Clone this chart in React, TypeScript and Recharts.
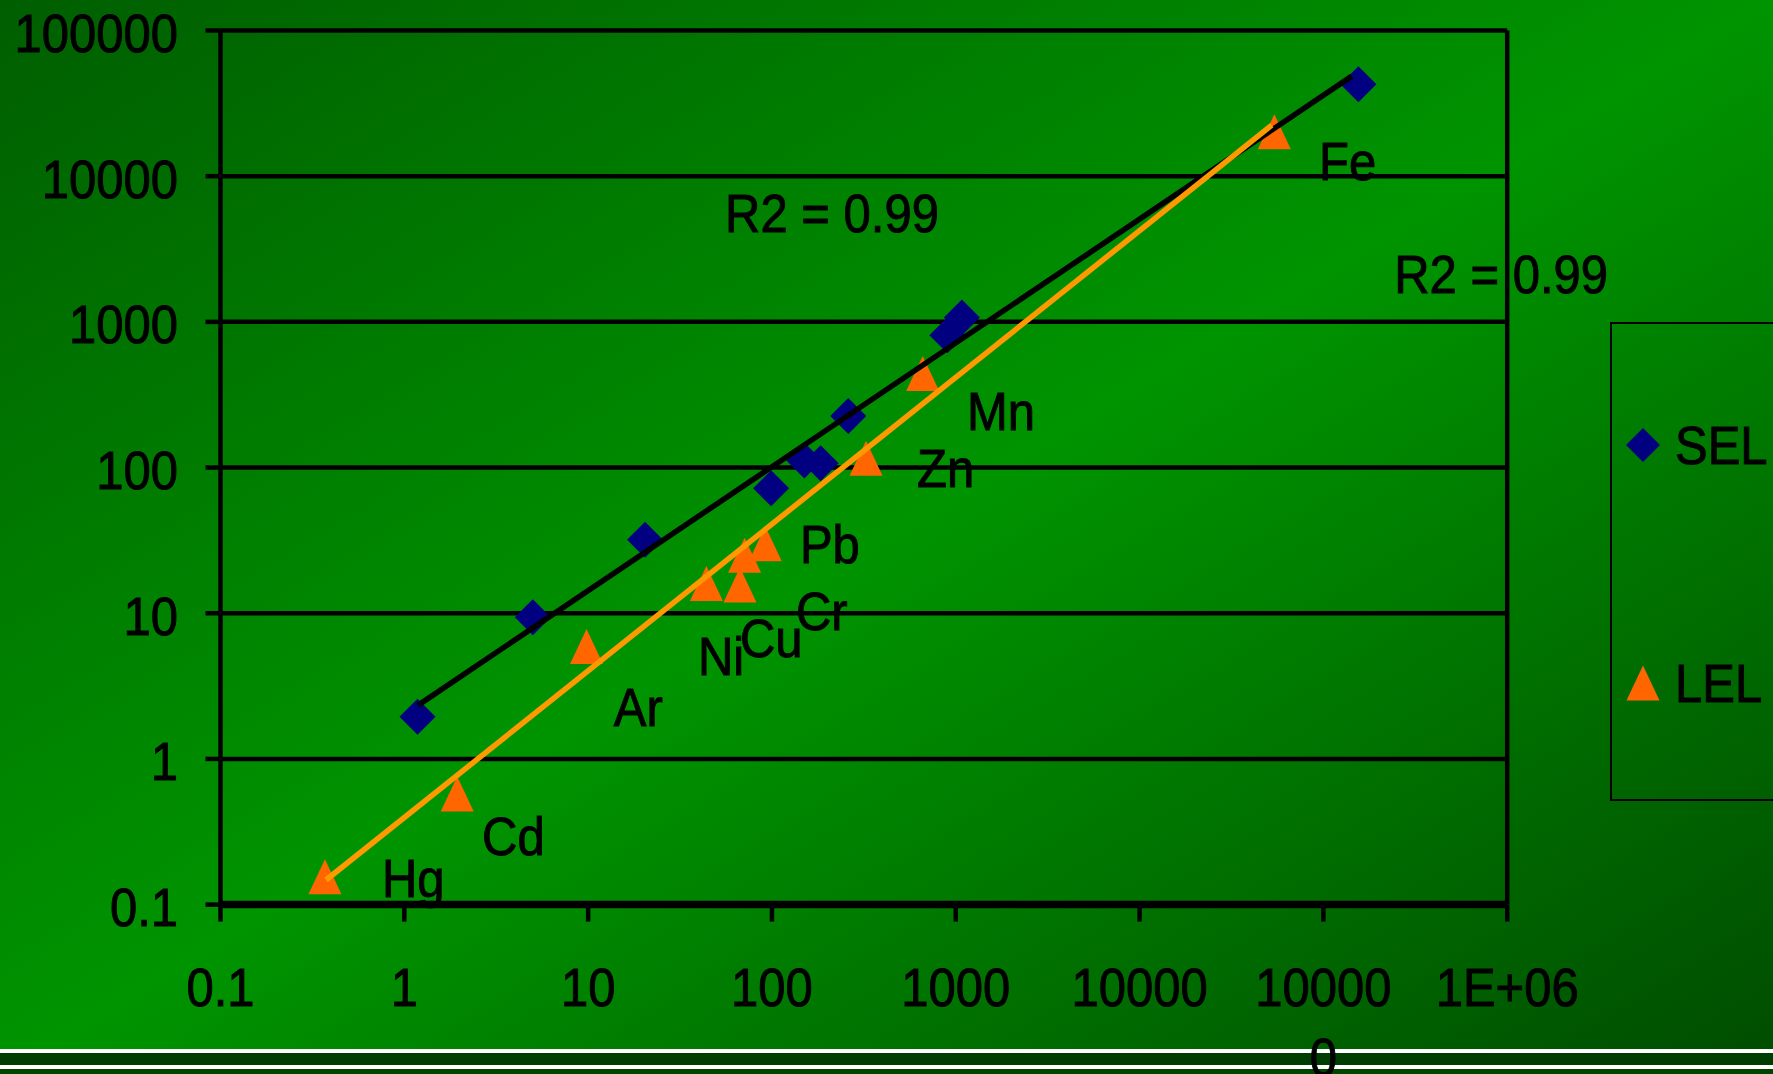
import React from 'react';
import { ScatterChart, Scatter, XAxis, YAxis, CartesianGrid, ReferenceLine } from 'recharts';

const FONT = '"Liberation Sans", Arial, sans-serif';
const TEXT_STROKE = 0.9;

const xTicks = [0.1, 1, 10, 100, 1000, 10000, 100000, 1000000];
const xTickLabels = ['0.1', '1', '10', '100', '1000', '10000', '10000\n0', '1E+06'];
const yTicks = [0.1, 1, 10, 100, 1000, 10000, 100000];
const yTickLabels = ['0.1', '1', '10', '100', '1000', '10000', '100000'];

// SEL series (diamonds)
const selData = [
  { x: 1.18, y: 1.95 },
  { x: 5.0, y: 9.4 },
  { x: 20.4, y: 32 },
  { x: 99, y: 72 },
  { x: 150, y: 112 },
  { x: 184, y: 107 },
  { x: 260, y: 226 },
  { x: 900, y: 810 },
  { x: 1080, y: 1070 },
  { x: 155000, y: 42700 },
];

// LEL series (triangles)
const elements = ['Hg', 'Cd', 'Ar', 'Ni', 'Cu', 'Cr', 'Pb', 'Zn', 'Mn', 'Fe'];
const lelX = [0.37, 1.94, 9.8, 44, 67, 71, 92, 325, 661, 54100];
const lelY = [0.155, 0.574, 5.9, 16, 15.6, 25, 30, 116, 443, 20200];
const lelData = elements.map((name, i) => ({ name, x: lelX[i], y: lelY[i] }));

// Power trendlines (straight on log-log), endpoints
const selTrend = [
  { x: 1.19, y: 2.34 },
  { x: 142700, y: 48600 },
];
const lelTrend = [
  { x: 0.375, y: 0.1475 },
  { x: 52400, y: 22400 },
];

// Data-label anchors (left / baseline) in data coordinates
const labelX = [0.756, 2.65, 13.8, 39.6, 67, 135, 142, 615, 1150, 94800];
const labelY = [0.113, 0.219, 1.68, 3.77, 5.0, 7.67, 22.1, 73.4, 181, 9400];
const labelData = elements.map((name, i) => ({ name, x: labelX[i], y: labelY[i] }));

const r2Labels = [
  { name: 'R2 = 0.99', x: 55.6, y: 4150 },
  { name: 'R2 = 0.99', x: 242700, y: 1578 },
];

const series = [
  { name: 'SEL', color: '#000080', shape: 'diamond' },
  { name: 'LEL', color: '#FF6600', shape: 'triangle' },
];

const diamondPts = (cx: number, cy: number, r = 18) =>
  `${cx},${cy - r} ${cx + r},${cy} ${cx},${cy + r} ${cx - r},${cy}`;
const trianglePts = (cx: number, cy: number) =>
  `${cx},${cy - 17.5} ${cx + 16.5},${cy + 17.5} ${cx - 16.5},${cy + 17.5}`;

const DiamondShape = (p: any) => (
  <polygon points={diamondPts(p.cx, p.cy)} fill={series[0].color} />
);
const TriangleShape = (p: any) => (
  <polygon points={trianglePts(p.cx, p.cy)} fill={series[1].color} />
);
const EmptyShape = () => <g />;

const textProps = {
  fontSize: 49,
  fontFamily: FONT,
  fill: '#000',
  stroke: '#000',
  strokeWidth: TEXT_STROKE,
};

const TextShape = (p: any) => (
  <g transform={`translate(${p.cx},${p.cy}) scale(1,1.1)`}>
    <text x={0} y={0} {...textProps}>
      {p.payload.name}
    </text>
  </g>
);

const findIdx = (arr: number[], v: number) =>
  arr.findIndex((t) => Math.abs(Math.log10(t) - Math.log10(v)) < 1e-6);

const XTick = (props: any) => {
  const { x, y, payload } = props;
  const i = findIdx(xTicks, payload.value);
  const lines = (i >= 0 ? xTickLabels[i] : String(payload.value)).split('\n');
  return (
    <g transform={`translate(${x},${y + 82}) scale(1,1.1)`}>
      <text x={0} y={0} textAnchor="middle" {...textProps}>
        {lines.map((l, k) => (
          <tspan key={k} x={0} dy={k === 0 ? 0 : 64}>
            {l}
          </tspan>
        ))}
      </text>
    </g>
  );
};

const YTick = (props: any) => {
  const { x, y, payload } = props;
  const i = findIdx(yTicks, payload.value);
  const label = i >= 0 ? yTickLabels[i] : String(payload.value);
  return (
    <g transform={`translate(${x - 25.5},${y + 21.5}) scale(1,1.1)`}>
      <text x={0} y={0} textAnchor="end" {...textProps}>
        {label}
      </text>
    </g>
  );
};

const Legend = () => (
  <svg
    width={1773}
    height={1074}
    style={{ position: 'absolute', left: 0, top: 0, pointerEvents: 'none' }}
  >
    <rect x={1611} y={323} width={200} height={477} fill="none" stroke="#000" strokeWidth={2} />
    {series.map((s, i) => {
      const cy = i === 0 ? 445 : 683;
      return (
        <g key={s.name}>
          {s.shape === 'diamond' ? (
            <polygon points={diamondPts(1643, cy, 17)} fill={s.color} />
          ) : (
            <polygon points={trianglePts(1643, cy)} fill={s.color} />
          )}
          <g transform={`translate(1675,${cy + 19}) scale(1,1.1)`}>
            <text x={0} y={0} {...textProps}>
              {s.name}
            </text>
          </g>
        </g>
      );
    })}
  </svg>
);

export default function App() {
  return (
    <div
      style={{
        position: 'relative',
        width: 1773,
        height: 1074,
        overflow: 'hidden',
        background: 'linear-gradient(to bottom right, #005e00 0%, #009400 50%, #004c00 100%)',
      }}
    >
      <style>{'html,body{margin:0;padding:0;overflow:hidden}'}</style>
      <div style={{ position: 'absolute', left: 0, top: 1049, width: 1773, height: 4, background: '#ffffff' }} />
      <div style={{ position: 'absolute', left: 0, top: 1053, width: 1773, height: 12, background: '#003d00' }} />
      <div style={{ position: 'absolute', left: 0, top: 1065, width: 1773, height: 4, background: '#ffffff' }} />
      <div style={{ position: 'absolute', left: 0, top: 1069, width: 1773, height: 5, background: '#004600' }} />
      <div style={{ position: 'absolute', left: 0, top: 0 }}>
        <ScatterChart
          width={1773}
          height={1074}
          margin={{ top: 30.5, right: 265.8, bottom: 0, left: 0 }}
        >
          <CartesianGrid vertical={false} stroke="#000" strokeWidth={4.5} />
          <XAxis
            type="number"
            dataKey="x"
            scale="log"
            domain={[0.1, 1000000]}
            ticks={xTicks}
            interval={0}
            height={169.4}
            tickSize={17}
            tickLine={{ stroke: '#000', strokeWidth: 4.5 }}
            axisLine={{ stroke: '#000', strokeWidth: 7.5 }}
            tick={<XTick />}
          />
          <YAxis
            type="number"
            dataKey="y"
            scale="log"
            domain={[0.1, 100000]}
            ticks={yTicks}
            interval={0}
            width={220.5}
            tickSize={15}
            tickLine={{ stroke: '#000', strokeWidth: 4.5 }}
            axisLine={{ stroke: '#000', strokeWidth: 4.5 }}
            tick={<YTick />}
          />
          <ReferenceLine x={1000000} stroke="#000" strokeWidth={4.5} />
          <Scatter name="SEL" data={selData} shape={DiamondShape} isAnimationActive={false} />
          <Scatter name="LEL" data={lelData} shape={TriangleShape} isAnimationActive={false} />
          <Scatter
            name="SEL trend"
            data={selTrend}
            shape={EmptyShape}
            line={{ stroke: '#000000', strokeWidth: 5.5 }}
            isAnimationActive={false}
            legendType="none"
          />
          <Scatter
            name="LEL trend"
            data={lelTrend}
            shape={EmptyShape}
            line={{ stroke: '#FF9900', strokeWidth: 5.5 }}
            isAnimationActive={false}
            legendType="none"
          />
          <Scatter name="labels" data={labelData} shape={TextShape} isAnimationActive={false} legendType="none" />
          <Scatter name="r2" data={r2Labels} shape={TextShape} isAnimationActive={false} legendType="none" />
        </ScatterChart>
      </div>
      <Legend />
    </div>
  );
}
